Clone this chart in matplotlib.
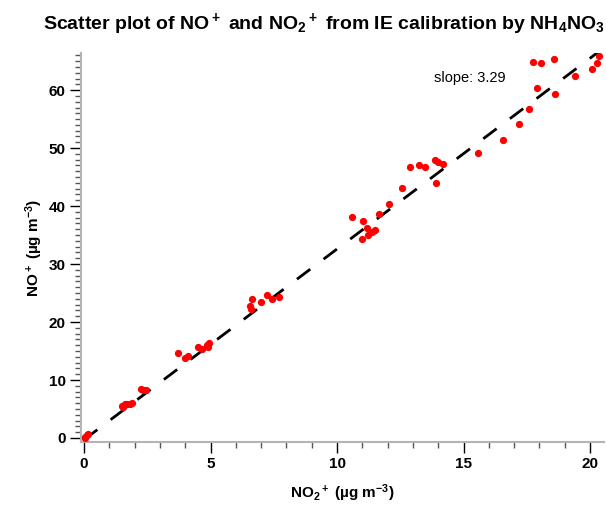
import matplotlib
matplotlib.use("Agg")
import matplotlib.pyplot as plt
import numpy as np
from matplotlib.ticker import MultipleLocator

plt.rcParams['font.family'] = ['Liberation Sans', 'DejaVu Sans']
plt.rcParams['mathtext.fontset'] = 'custom'
plt.rcParams['mathtext.rm'] = 'Liberation Sans:bold'
plt.rcParams['mathtext.bf'] = 'Liberation Sans:bold'
plt.rcParams['mathtext.default'] = 'bf'

# NO2+ (x) and NO+ (y), ug m-3
no2 = [0.02, 0.05, 0.1, 0.15,
       1.5, 1.55, 1.6, 1.7, 1.8, 1.9,
       2.25, 2.35, 2.45,
       3.72, 4.0, 4.1, 4.5, 4.67, 4.86, 4.94, 4.9,
       6.56, 6.6, 6.64, 7.0, 7.23, 7.43, 7.7,
       10.6, 11.04, 11.2, 11.5, 11.37, 11.24, 11.0, 11.67, 12.05, 12.57,
       12.9, 13.25, 13.48, 13.87, 14.0, 14.2, 13.9, 15.57,
       16.55, 17.2, 17.6, 17.9, 17.76, 18.05, 18.58, 18.6, 19.4,
       20.08, 20.26, 20.37]
no = [0.0, 0.2, 0.5, 0.7,
      5.6, 5.4, 5.8, 5.9, 5.8, 6.0,
      8.5, 8.2, 8.3,
      14.6, 13.8, 14.1, 15.7, 15.3, 16.0, 16.4, 15.7,
      22.8, 22.2, 24.0, 23.5, 24.7, 24.0, 24.3,
      38.2, 37.4, 36.3, 35.9, 35.6, 35.0, 34.3, 38.6, 40.3, 43.1,
      46.8, 47.0, 46.8, 48.0, 47.6, 47.2, 43.9, 49.1,
      51.4, 54.2, 56.8, 60.3, 64.8, 64.7, 65.3, 59.4, 62.5,
      63.7, 64.6, 65.8]

slope = 3.29
intercept = -0.3
fit_x = [0.0, 20.6]

fig = plt.figure(figsize=(6.06, 5.09), dpi=100)
ax = fig.add_axes([81 / 606, 67 / 509, 523 / 606, 389 / 509])

fx = np.array(fit_x)
ax.plot(fx, slope * fx + intercept, color='black', lw=2, dashes=(6, 6), zorder=2)
ax.plot(no2, no, 'o', color='red', ms=4.2, mec='red', zorder=3)

ax.set_xlim(-0.12, 20.55)
ax.set_ylim(-0.69, 66.4)

ax.xaxis.set_major_locator(MultipleLocator(5))
ax.xaxis.set_minor_locator(MultipleLocator(1))
ax.yaxis.set_major_locator(MultipleLocator(10))
ax.yaxis.set_minor_locator(MultipleLocator(1))

for s in ['top', 'right']:
    ax.spines[s].set_visible(False)
for s in ['left', 'bottom']:
    ax.spines[s].set_color('#b4b4b4')
    ax.spines[s].set_linewidth(1.5)

ax.tick_params(which='major', direction='out', length=8, width=1, color='black',
               labelsize=11, pad=3)
ax.tick_params(which='minor', direction='out', length=4, width=1, color='#555555')
for lab in ax.get_xticklabels() + ax.get_yticklabels():
    lab.set_fontweight('bold')

ax.set_xlabel('NO$_2$$^+$ (µg m$^{-3}$)', fontsize=11, fontweight='bold', labelpad=8)
ax.set_ylabel('NO$^+$ (µg m$^{-3}$)', fontsize=11, fontweight='bold', labelpad=3)

ax.text(15.25, 62.1, 'slope: 3.29', fontsize=10.5, ha='center', va='center')

fig.suptitle('Scatter plot of NO$^+$ and NO$_2$$^+$ from IE calibration by NH$_4$NO$_3$',
             x=0.535, y=0.978, fontsize=14, fontweight='bold')

fig.savefig('out.png', dpi=100)
